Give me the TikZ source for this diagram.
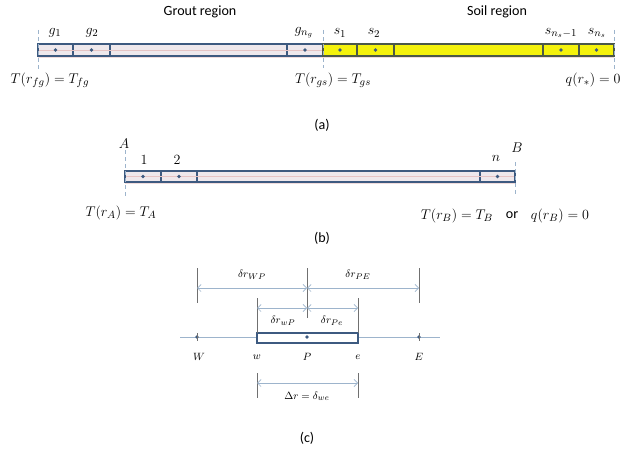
\documentclass[tikz,border=0pt]{standalone}
\usepackage{fontspec}
\newfontfamily\capfont{Carlito}
\usetikzlibrary{arrows.meta}
\definecolor{cellblue}{HTML}{3D5A80}
\definecolor{grout}{HTML}{EEE8EC}
\definecolor{stripe}{HTML}{E6C4C4}
\definecolor{soil}{HTML}{F4F20C}
\definecolor{soilline}{HTML}{4B5848}
\definecolor{dimblue}{HTML}{9DB4CC}
\definecolor{tickgray}{HTML}{707070}
\tikzset{
  groutcell/.style={draw=cellblue, line width=1.2pt, fill=grout},
  soilcell/.style={draw=soilline, line width=1.2pt, fill=soil},
  bound/.style={draw=dimblue, dashed, line width=0.5pt},
  lab/.style={font=\fontsize{12.5}{14}\selectfont, inner sep=1pt},
  captext/.style={font=\capfont\fontsize{12}{14}\selectfont, inner sep=1pt},
  smalllab/.style={font=\fontsize{9.5}{11}\selectfont, inner sep=1pt},
  dim/.style={draw=dimblue, line width=0.6pt, {Straight Barb[length=3pt]}-{Straight Barb[length=3pt]}},
  tickline/.style={draw=tickgray, line width=0.6pt},
  nodept/.style={circle, fill=cellblue, inner sep=0pt, minimum size=3.3pt},
}
\begin{document}
\begin{tikzpicture}[x=0.03cm, y=-0.03cm]
  \useasboundingbox (0,0) rectangle (623,452);
  % (a) grout and soil regions
  \node[captext] (grouttitle) at (200,12) {Grout region};
  \node[captext] (soiltitle) at (497,12) {Soil region};
  \draw[stripe!60, line width=1pt] (38,57.5) -- (614,57.5);
  \foreach \a/\b in {38/73, 73/110, 110/287, 287/323}
    \draw[groutcell] (\a,44) rectangle (\b,56);
  \draw[stripe, line width=0.5pt] (39,50) -- (322,50);
  \foreach \a/\b in {323/357, 357/394, 394/543, 543/579, 579/614}
    \draw[soilcell] (\a,44) rectangle (\b,56);
  \foreach \x/\nm in {55.5/ga, 91.5/gb, 305/gn, 340/sa, 375.5/sb, 561/sm, 596.5/sn}
    \node[nodept] (\nm) at (\x,50) {};
  \node[lab] at (55,33) {$g_1$};
  \node[lab] at (92,33) {$g_2$};
  \node[lab] at (304,33) {$g_{n_g}$};
  \node[lab] at (340,33) {$s_1$};
  \node[lab] at (374,33) {$s_2$};
  \node[lab] at (561,33) {$s_{n_s-1}$};
  \node[lab] at (597,33) {$s_{n_s}$};
  \draw[bound] (38,30) -- (38,72);
  \draw[bound] (323,30) -- (323,68);
  \draw[bound] (614,30) -- (614,72);
  \node[lab] (Tfg) at (50,80) {$T(r_{fg})=T_{fg}$};
  \node[lab] (Tgs) at (333,80) {$T(r_{gs})=T_{gs}$};
  \node[lab, anchor=east] (qstar) at (622,80) {$q(r_*)=0$};
  \node[captext] (capa) at (322,125) {(a)};
  % (b) general domain
  \draw[stripe!60, line width=1pt] (125,183.5) -- (515,183.5);
  \foreach \a/\b in {125/161, 161/197, 197/480, 480/515}
    \draw[groutcell] (\a,171) rectangle (\b,182);
  \draw[stripe, line width=0.5pt] (126,176.5) -- (514,176.5);
  \foreach \x/\nm in {143/ba, 179/bb, 497.5/bn}
    \node[nodept] (\nm) at (\x,176.5) {};
  \draw[bound] (125,150) -- (125,196);
  \draw[bound] (515,162) -- (515,197);
  \node[lab] (ptA) at (124,144) {$A$};
  \node[lab] (ptB) at (517,148) {$B$};
  \node[lab] at (144,160) {$1$};
  \node[lab] at (177,160) {$2$};
  \node[lab] at (496,158) {$n$};
  \node[lab] (TA) at (121,213) {$T(r_A)=T_A$};
  \node[lab] (TB) at (457,216) {$T(r_B)=T_B$};
  \node[captext] (orword) at (512,215) {or};
  \node[lab] (qB) at (560,216) {$q(r_B)=0$};
  \node[captext] (capb) at (322,238) {(b)};
  % (c) control volume
  \coordinate (W) at (197,337);
  \coordinate (w) at (257,337);
  \coordinate (P) at (307,337);
  \coordinate (e) at (358,337);
  \coordinate (E) at (419,337);
  \draw[dimblue, line width=0.6pt] (180,337) -- (440,337);
  \draw[groutcell, fill=white] (257,333) rectangle (358,343);
  \node[nodept] at (W) {};
  \node[nodept] at (P) {};
  \node[nodept] at (E) {};
  \draw[tickline] ([yshift=-3pt]W) -- ([yshift=3pt]W);
  \draw[tickline] ([yshift=-3pt]E) -- ([yshift=3pt]E);
  \node[smalllab] at (199,357) {$W$};
  \node[smalllab] at (257,357) {$w$};
  \node[smalllab] at (307,357) {$P$};
  \node[smalllab] at (358,357) {$e$};
  \node[smalllab] at (419,357) {$E$};
  % top dimensions
  \draw[tickline] (197,268) -- (197,303);
  \draw[tickline] (307,268) -- (307,318);
  \draw[tickline] (419,268) -- (419,303);
  \draw[dim] (197,288) -- (307,288);
  \draw[dim] (307,288) -- (419,288);
  \node[smalllab] at (252,275) {$\delta r_{WP}$};
  \node[smalllab] at (358,275) {$\delta r_{PE}$};
  \draw[tickline] (257,298) -- (257,333);
  \draw[tickline] (358,298) -- (358,333);
  \draw[dim] (257,308) -- (307,308);
  \draw[dim] (307,308) -- (358,308);
  \node[smalllab] at (283,321) {$\delta r_{wP}$};
  \node[smalllab] at (332,321) {$\delta r_{Pe}$};
  % bottom dimension
  \draw[tickline] (257,373) -- (257,398);
  \draw[tickline] (358,373) -- (358,398);
  \draw[dim] (257,383) -- (358,383);
  \node[smalllab] at (307,396) {$\Delta r=\delta_{we}$};
  \node[captext] (capc) at (307,438) {(c)};
\end{tikzpicture}
\end{document}
